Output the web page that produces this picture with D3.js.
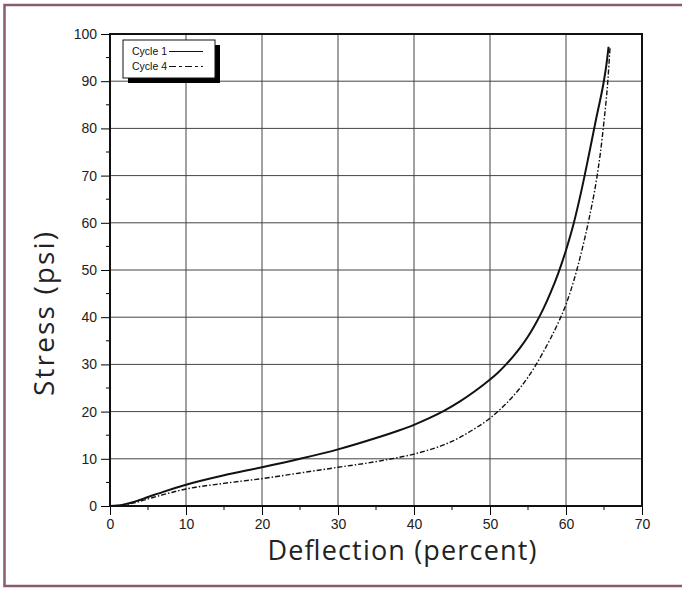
<!DOCTYPE html>
<html>
<head>
<meta charset="utf-8">
<script src="https://cdn.jsdelivr.net/npm/d3@7"></script>
<style>
  body { margin: 0; background: #fff; }
  svg { display: block; }
</style>
</head>
<body>
<svg id="chart"></svg>
<script>
// values
const xTicks = [0, 10, 20, 30, 40, 50, 60, 70];
const yTicks = [0, 10, 20, 30, 40, 50, 60, 70, 80, 90, 100];
const seriesNames = ["Cycle 1", "Cycle 4"];

// Cycle 1: [deflection %, stress psi]
const cycle1 = [
  [0, 0], [1, 0.1], [2, 0.4], [3, 0.8], [5, 1.9], [7, 3.0], [10, 4.5],
  [15, 6.5], [20, 8.2], [25, 10], [30, 12], [35, 14.4], [38, 16.0],
  [40, 17.2], [42, 18.6], [44, 20.2], [46, 22.1], [48, 24.3], [50, 26.8],
  [51, 28.2], [52, 29.8], [53, 31.6], [54, 33.6], [55, 35.9], [56, 38.6],
  [57, 41.7], [58, 45.3], [59, 49.4], [60, 54.2], [61, 59.8], [62, 66.6],
  [63, 74.3], [64, 82.3], [65, 90.2], [65.3, 93.3], [65.6, 97.3]
];

// Cycle 4
const cycle4 = [
  [0, 0], [1, 0.1], [2, 0.3], [3, 0.6], [5, 1.5], [7, 2.4], [10, 3.6],
  [15, 4.8], [20, 5.8], [25, 7.0], [30, 8.2], [35, 9.4], [38, 10.3],
  [40, 11.0], [42, 11.9], [44, 13.0], [46, 14.5], [48, 16.4], [50, 18.6],
  [51, 20.0], [52, 21.5], [53, 23.2], [54, 25.1], [55, 27.3], [56, 29.8],
  [57, 32.6], [58, 35.6], [59, 38.9], [60, 42.7], [61, 47.6], [62, 53.6],
  [63, 60.6], [64, 69.0], [64.5, 74.5], [65, 81.5], [65.5, 90], [65.8, 97.3]
];

const width = 682;
const height = 589;
const margin = ({ top: 34, right: 40, bottom: 83, left: 110 });

const svg = d3.select("#chart")
  .attr("width", width)
  .attr("height", height)
  .attr("viewBox", [0, 0, width, height]);

const x = d3.scaleLinear()
  .domain([0, 70])
  .range([margin.left, width - margin.right]);

const y = d3.scaleLinear()
  .domain([0, 100])
  .range([height - margin.bottom, margin.top]);

// outer page frame (left, top, bottom)
const frameColor = "#8a5a70";
svg.append("path")
  .attr("d", `M${width},5 H4.5 V586 H${width}`)
  .attr("fill", "none")
  .attr("stroke", frameColor)
  .attr("stroke-width", 2.5);

// grid
svg.append("g")
  .attr("stroke", "#444")
  .attr("stroke-width", 1)
  .call(g => g.selectAll("line.v").data(xTicks.slice(1, -1)).join("line")
    .attr("class", "v")
    .attr("x1", d => x(d)).attr("x2", d => x(d))
    .attr("y1", y(0)).attr("y2", y(100)))
  .call(g => g.selectAll("line.h").data(yTicks.slice(1, -1)).join("line")
    .attr("class", "h")
    .attr("y1", d => y(d)).attr("y2", d => y(d))
    .attr("x1", x(0)).attr("x2", x(70)));

// axes
const tickFont = "'Liberation Sans', Arial, sans-serif";

const xAxis = g => g
  .attr("transform", `translate(0,${y(0)})`)
  .call(d3.axisBottom(x).tickValues(xTicks).tickSize(9).tickPadding(4).tickFormat(d3.format("d")))
  .call(g => g.select(".domain").remove())
  .call(g => g.selectAll("text")
    .attr("font-family", tickFont)
    .attr("font-size", 14)
    .attr("fill", "#222"))
  .call(g => g.selectAll(".minor").data(d3.range(5, 70, 10)).join("line")
    .attr("class", "minor")
    .attr("x1", d => x(d)).attr("x2", d => x(d))
    .attr("y1", 0).attr("y2", 4)
    .attr("stroke", "#000"));

const yAxis = g => g
  .attr("transform", `translate(${x(0)},0)`)
  .call(d3.axisLeft(y).tickValues(yTicks).tickSize(9).tickPadding(4).tickFormat(d3.format("d")))
  .call(g => g.select(".domain").remove())
  .call(g => g.selectAll("text")
    .attr("font-family", tickFont)
    .attr("font-size", 14)
    .attr("fill", "#222"))
  .call(g => g.selectAll(".minor").data(d3.range(5, 100, 10)).join("line")
    .attr("class", "minor")
    .attr("y1", d => y(d)).attr("y2", d => y(d))
    .attr("x1", 0).attr("x2", -4)
    .attr("stroke", "#000"));

svg.append("g").call(xAxis);
svg.append("g").call(yAxis);

// plot frame
svg.append("rect")
  .attr("x", x(0)).attr("y", y(100))
  .attr("width", x(70) - x(0)).attr("height", y(0) - y(100))
  .attr("fill", "none")
  .attr("stroke", "#111")
  .attr("stroke-width", 2);

// curves
const line = d3.line()
  .x(d => x(d[0]))
  .y(d => y(d[1]))
  .curve(d3.curveMonotoneX);

svg.append("path")
  .datum(cycle1)
  .attr("fill", "none")
  .attr("stroke", "#111")
  .attr("stroke-width", 2)
  .attr("d", line);

svg.append("path")
  .datum(cycle4)
  .attr("fill", "none")
  .attr("stroke", "#111")
  .attr("stroke-width", 1.4)
  .attr("stroke-dasharray", "5,2,1.5,2")
  .attr("d", line);

// legend with drop shadow
const legend = svg.append("g").attr("transform", "translate(123,40)");
legend.append("rect")
  .attr("x", 5).attr("y", 5).attr("width", 92).attr("height", 38)
  .attr("fill", "#000");
legend.append("rect")
  .attr("x", 0).attr("y", 0).attr("width", 92).attr("height", 38)
  .attr("fill", "#fff").attr("stroke", "#111").attr("stroke-width", 1);

seriesNames.forEach((name, i) => {
  const ly = 15 + i * 15;
  const t = legend.append("text")
    .attr("x", 9).attr("y", ly)
    .attr("font-family", tickFont)
    .attr("font-size", 10.5)
    .attr("fill", "#111")
    .text(name);
  const tx = 9 + t.node().getComputedTextLength() + 2;
  legend.append("line")
    .attr("x1", tx).attr("x2", tx + 34)
    .attr("y1", ly - 3.5).attr("y2", ly - 3.5)
    .attr("stroke", "#111")
    .attr("stroke-width", i === 0 ? 1.2 : 1)
    .attr("stroke-dasharray", i === 0 ? null : "7,3,3,3");
});

// axis titles
svg.append("text")
  .attr("x", 402).attr("y", 560)
  .attr("text-anchor", "middle")
  .attr("font-family", "'Open Sans', 'Noto Sans', sans-serif")
  .attr("font-size", 27)
  .attr("textLength", 269)
  .attr("lengthAdjust", "spacing")
  .attr("fill", "#222")
  .text("Deflection (percent)");

svg.append("text")
  .attr("transform", "translate(54,314) rotate(-90)")
  .attr("text-anchor", "middle")
  .attr("font-family", "'Open Sans', 'Noto Sans', sans-serif")
  .attr("font-size", 28)
  .attr("textLength", 164)
  .attr("lengthAdjust", "spacing")
  .attr("fill", "#222")
  .text("Stress (psi)");
</script>
</body>
</html>
